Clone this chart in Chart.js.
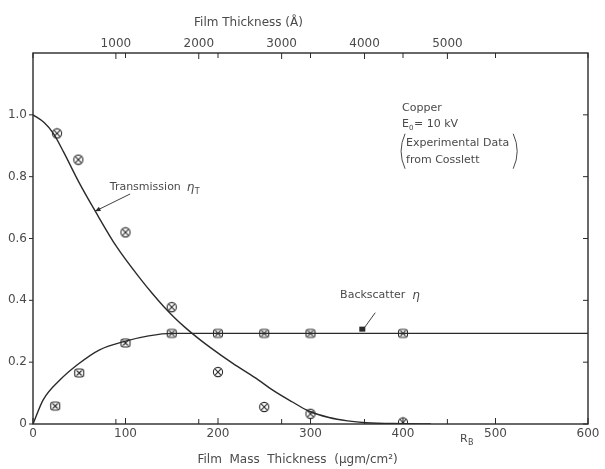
<!DOCTYPE html>
<html><head><meta charset="utf-8">
<script src="https://cdn.jsdelivr.net/npm/chart.js@4/dist/chart.umd.min.js"></script>
<style>html,body{margin:0;padding:0;background:#fff}#wrap{width:605px;height:469px;position:relative}canvas{display:block}</style>
</head><body><div id="wrap"><canvas id="c" width="605" height="469" style="width:605px;height:469px"></canvas></div>
<script>
// ---- data ----
const massTicks = [0, 100, 200, 300, 400, 500, 600];            // µgm/cm²
const angstromTicks = [1000, 2000, 3000, 4000, 5000];            // Å
const yTicks = [0, 0.2, 0.4, 0.6, 0.8, 1.0];
const transX = [26, 49, 100, 150, 200, 250, 300, 400];
const transY = [0.94, 0.855, 0.62, 0.378, 0.168, 0.055, 0.033, 0.005];
const backX = [24, 50, 100, 150, 200, 250, 300, 400];
const backY = [0.058, 0.165, 0.262, 0.293, 0.293, 0.293, 0.293, 0.293];
const transCurveX = [0, 12, 22, 33, 50, 67, 90, 117, 129, 141, 153, 165, 177, 190, 216, 240, 260, 280, 298, 320, 340, 360, 400, 430];
const transCurveY = [1.0, 0.975, 0.94, 0.88, 0.78, 0.69, 0.575, 0.466, 0.422, 0.381, 0.344, 0.311, 0.281, 0.251, 0.196, 0.15, 0.108, 0.072, 0.042, 0.021, 0.01, 0.004, 0.001, 0];
const backCurveX = [0, 11, 29, 49, 72, 100, 125, 150, 600];
const backCurveY = [0, 0.078, 0.142, 0.194, 0.24, 0.268, 0.285, 0.293, 0.293];
const cuMassPerAngstrom = 0.0896; // µgm/cm² per Å for copper (ρ = 8.96 g/cm³)

const INK = '#2a2a2a';
const TXT = '#4a4a4a';
const FONT = '"DejaVu Sans", "Liberation Sans", sans-serif';

function zip(xs, ys) { return xs.map((x, i) => ({ x: x, y: ys[i] })); }

function makeMarker(kind) {
  const c = document.createElement('canvas');
  c.width = 12; c.height = 12;
  const g = c.getContext('2d');
  g.strokeStyle = INK; g.lineWidth = 1.1;
  g.fillStyle = '#fff';
  if (kind === 'circle') {
    g.beginPath(); g.arc(6, 6, 4.6, 0, Math.PI * 2); g.fill(); g.stroke();
    g.beginPath(); g.moveTo(3.2, 3.2); g.lineTo(8.8, 8.8); g.moveTo(8.8, 3.2); g.lineTo(3.2, 8.8); g.stroke();
  } else {
    const x = 1.5, y = 2, w = 9, h = 8, r = 2.5;
    g.beginPath();
    g.moveTo(x + r, y); g.lineTo(x + w - r, y); g.quadraticCurveTo(x + w, y, x + w, y + r);
    g.lineTo(x + w, y + h - r); g.quadraticCurveTo(x + w, y + h, x + w - r, y + h);
    g.lineTo(x + r, y + h); g.quadraticCurveTo(x, y + h, x, y + h - r);
    g.lineTo(x, y + r); g.quadraticCurveTo(x, y, x + r, y); g.closePath(); g.fill(); g.stroke();
    g.beginPath(); g.moveTo(3.5, 3.5); g.lineTo(8.5, 8.5); g.moveTo(8.5, 3.5); g.lineTo(3.5, 8.5); g.stroke();
  }
  return c;
}

const framePlugin = {
  id: 'frame',
  afterDraw(chart) {
    const { ctx, chartArea: a, scales } = chart;
    const sx = scales.x, sy = scales.y, st = scales.x2;
    ctx.save();
    ctx.strokeStyle = INK; ctx.lineWidth = 1.4;
    ctx.strokeRect(a.left, a.top, a.right - a.left, a.bottom - a.top);
    ctx.lineWidth = 1;
    ctx.beginPath();
    massTicks.forEach(v => {
      const px = sx.getPixelForValue(v);
      ctx.moveTo(px, a.bottom); ctx.lineTo(px, a.bottom - 6);
      ctx.moveTo(px, a.top); ctx.lineTo(px, a.top + 5);
    });
    angstromTicks.forEach(v => {
      const px = st.getPixelForValue(v);
      ctx.moveTo(px, a.top); ctx.lineTo(px, a.top + 6);
      ctx.moveTo(px, a.bottom); ctx.lineTo(px, a.bottom - 5);
    });
    yTicks.forEach(v => {
      const py = sy.getPixelForValue(v);
      ctx.moveTo(a.left, py); ctx.lineTo(a.left - 4, py);
      ctx.moveTo(a.right, py); ctx.lineTo(a.right - 5, py);
    });
    ctx.stroke();

    // titles
    ctx.fillStyle = TXT;
    ctx.textAlign = 'center'; ctx.textBaseline = 'middle';
    ctx.font = '12px ' + FONT;
    ctx.fillText('Film Thickness (Å)', st.getPixelForValue(2600), 23);
    ctx.fillText('Film  Mass  Thickness  (\u03BCgm/cm\u00B2)', sx.getPixelForValue(286), 460);
    // R_B
    ctx.textAlign = 'left';
    ctx.font = '11px ' + FONT;
    const rbx = sx.getPixelForValue(468);
    ctx.fillText('R', rbx - 6, a.bottom + 15);
    ctx.font = '8px ' + FONT;
    ctx.fillText('B', rbx + 2, a.bottom + 19);
    ctx.restore();
  },
  afterDatasetsDraw(chart) {
    const { ctx, scales } = chart;
    const sx = scales.x, sy = scales.y;
    const P = (x, y) => [sx.getPixelForValue(x), sy.getPixelForValue(y)];
    ctx.save();
    ctx.fillStyle = TXT; ctx.strokeStyle = INK;
    ctx.textBaseline = 'middle'; ctx.textAlign = 'left';

    // Transmission label
    let [tx, ty] = P(83, 0.767);
    ctx.font = '11px ' + FONT;
    ctx.fillText('Transmission', tx, ty);
    const tw = ctx.measureText('Transmission').width;
    ctx.font = 'italic 12px ' + FONT;
    ctx.fillText('\u03B7', tx + tw + 6, ty + 1);
    ctx.font = '8px ' + FONT;
    ctx.fillText('T', tx + tw + 14, ty + 5);
    // arrow
    let [a1x, a1y] = P(105, 0.744), [a2x, a2y] = P(67, 0.688);
    ctx.lineWidth = 0.9;
    ctx.beginPath(); ctx.moveTo(a1x, a1y); ctx.lineTo(a2x, a2y); ctx.stroke();
    let ang = Math.atan2(a2y - a1y, a2x - a1x);
    ctx.beginPath();
    ctx.moveTo(a2x, a2y);
    ctx.lineTo(a2x - 6 * Math.cos(ang - 0.4), a2y - 6 * Math.sin(ang - 0.4));
    ctx.lineTo(a2x - 6 * Math.cos(ang + 0.4), a2y - 6 * Math.sin(ang + 0.4));
    ctx.closePath(); ctx.fillStyle = INK; ctx.fill();

    // Backscatter label
    ctx.fillStyle = TXT;
    let [bx, by] = P(332, 0.417);
    ctx.font = '11px ' + FONT;
    ctx.fillText('Backscatter', bx, by);
    const bw = ctx.measureText('Backscatter').width;
    ctx.font = 'italic 12px ' + FONT;
    ctx.fillText('\u03B7', bx + bw + 7, by + 1);
    let [b1x, b1y] = P(370, 0.36), [b2x, b2y] = P(356, 0.302);
    ctx.beginPath(); ctx.moveTo(b1x, b1y); ctx.lineTo(b2x, b2y); ctx.stroke();
    ctx.fillStyle = INK;
    ctx.fillRect(b2x - 3, b2y - 4, 6, 5);

    // Copper annotation
    ctx.fillStyle = TXT;
    let [cx, cy] = P(399, 1.023);
    ctx.font = '11px ' + FONT;
    ctx.fillText('Copper', cx, cy);
    ctx.fillText('E', cx, cy + 16);
    const ew = ctx.measureText('E').width;
    ctx.font = '7px ' + FONT;
    ctx.fillText('0', cx + ew, cy + 20);
    ctx.font = '11px ' + FONT;
    ctx.fillText('= 10 kV', cx + ew + 5, cy + 16);
    ctx.fillText('Experimental Data', cx + 4, cy + 35);
    ctx.fillText('from Cosslett', cx + 4, cy + 52);
    const pw = ctx.measureText('Experimental Data').width;
    ctx.strokeStyle = TXT; ctx.lineWidth = 1;
    ctx.beginPath();
    ctx.moveTo(cx + 3, cy + 26); ctx.quadraticCurveTo(cx - 5, cy + 43.5, cx + 3, cy + 61);
    ctx.moveTo(cx + pw + 8, cy + 26); ctx.quadraticCurveTo(cx + pw + 16, cy + 43.5, cx + pw + 8, cy + 61);
    ctx.stroke();
    ctx.restore();
  }
};

const circleMk = makeMarker('circle');
const boxMk = makeMarker('box');

new Chart(document.getElementById('c'), {
  type: 'scatter',
  data: {
    datasets: [
      { label: 'Transmission curve', data: zip(transCurveX, transCurveY), showLine: true, borderColor: INK, borderWidth: 1.4, pointRadius: 0, cubicInterpolationMode: 'monotone', fill: false },
      { label: 'Backscatter curve', data: zip(backCurveX, backCurveY), showLine: true, borderColor: INK, borderWidth: 1.4, pointRadius: 0, cubicInterpolationMode: 'monotone', fill: false },
      { label: 'Transmission data', data: zip(transX, transY), showLine: false, pointStyle: circleMk, pointRadius: 6 },
      { label: 'Backscatter data', data: zip(backX, backY), showLine: false, pointStyle: boxMk, pointRadius: 6 }
    ]
  },
  options: {
    responsive: false,
    maintainAspectRatio: false,
    animation: false,
    devicePixelRatio: 1,
    layout: { padding: { left: 0, right: 17, top: 0, bottom: 0 } },
    plugins: { legend: { display: false }, tooltip: { enabled: false } },
    scales: {
      x: {
        type: 'linear', position: 'bottom', min: 0, max: 600,
        afterBuildTicks: s => { s.ticks = massTicks.map(v => ({ value: v })); },
        afterFit: s => { s.height = 45; },
        grid: { display: false, drawTicks: false }, border: { display: false },
        ticks: { padding: 3, color: TXT, font: { family: FONT, size: 12 }, maxRotation: 0, callback: v => String(v) }
      },
      x2: {
        type: 'linear', position: 'top', min: 0, max: 600 / cuMassPerAngstrom,
        afterBuildTicks: s => { s.ticks = angstromTicks.map(v => ({ value: v })); },
        afterFit: s => { s.height = 53; },
        grid: { display: false, drawTicks: false }, border: { display: false },
        ticks: { padding: 2, color: TXT, font: { family: FONT, size: 12 }, maxRotation: 0, callback: v => String(v) }
      },
      y: {
        type: 'linear', position: 'left', min: 0, max: 1.2,
        afterBuildTicks: s => { s.ticks = yTicks.map(v => ({ value: v })); },
        afterFit: s => { s.width = 33; },
        grid: { display: false, drawTicks: false }, border: { display: false },
        ticks: { padding: 6, color: TXT, font: { family: FONT, size: 12 }, callback: v => (v === 0 ? '0' : v.toFixed(1)) }
      }
    }
  },
  plugins: [framePlugin]
});
</script>
</body></html>
